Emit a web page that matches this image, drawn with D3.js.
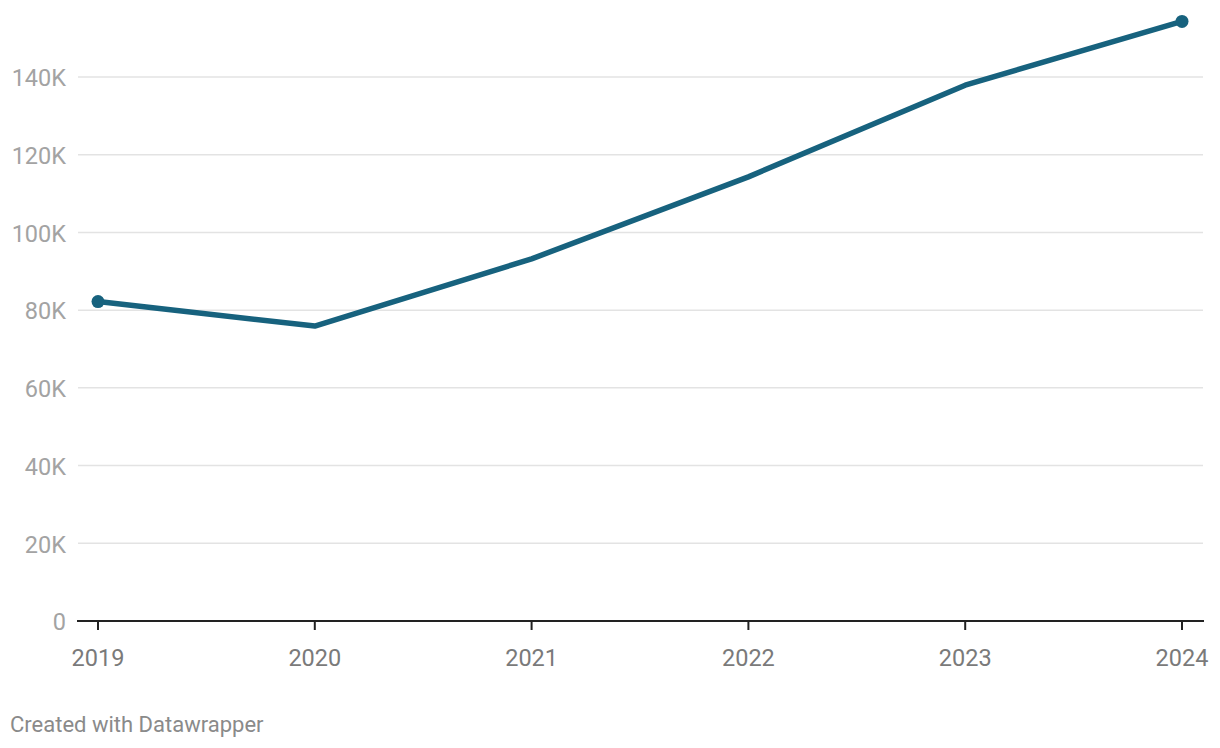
<!DOCTYPE html>
<html><head><meta charset="utf-8">
<script src="https://cdn.jsdelivr.net/npm/d3@7"></script>
<style>
body{margin:0;background:#fff;font-family:Roboto,"Noto Sans",sans-serif;}
</style></head>
<body><svg id="c" width="1220" height="748"></svg>
<script>
const years = [2019, 2020, 2021, 2022, 2023, 2024];
const values = [82200, 75900, 93200, 114300, 137900, 154300];
const yTicks = [0, 20000, 40000, 60000, 80000, 100000, 120000, 140000];
const yTickLabels = ["0", "20K", "40K", "60K", "80K", "100K", "120K", "140K"];
const footer = "Created with Datawrapper";

const svg = d3.select("#c");
const x = d3.scaleLinear().domain([2019, 2024]).range([98, 1182]);
const y = d3.scaleLinear().domain([0, 140000]).range([621, 77]);

// gridlines
svg.append("g").selectAll("line").data(yTicks.slice(1)).join("line")
  .attr("x1", 78).attr("x2", 1203)
  .attr("y1", d => y(d)).attr("y2", d => y(d))
  .attr("stroke", "#e3e3e3").attr("stroke-width", 1.5);

// y labels
svg.append("g").selectAll("text").data(yTicks).join("text")
  .attr("x", 66).attr("y", d => y(d) + 1).attr("dy", "0.35em")
  .attr("text-anchor", "end").attr("fill", "#a3a3a3")
  .attr("font-size", 23.5).text((d, i) => yTickLabels[i]);

// baseline
svg.append("line").attr("x1", 77).attr("x2", 1204)
  .attr("y1", y(0)).attr("y2", y(0)).attr("stroke", "#222").attr("stroke-width", 2);

// x ticks
svg.append("g").selectAll("line").data(years).join("line")
  .attr("x1", d => x(d)).attr("x2", d => x(d))
  .attr("y1", y(0)).attr("y2", y(0) + 9)
  .attr("stroke", "#222").attr("stroke-width", 2);

svg.append("g").selectAll("text").data(years).join("text")
  .attr("x", d => x(d)).attr("y", 658).attr("dy", "0.35em")
  .attr("text-anchor", "middle").attr("fill", "#7a7a7a")
  .attr("font-size", 23.5).text(d => d);

// line
const line = d3.line().x((d, i) => x(years[i])).y(d => y(d));
svg.append("path").datum(values).attr("d", line)
  .attr("fill", "none").attr("stroke", "#17627e").attr("stroke-width", 5.5)
  .attr("stroke-linejoin", "round");

svg.append("g").selectAll("circle").data([0, values.length - 1]).join("circle")
  .attr("cx", i => x(years[i])).attr("cy", i => y(values[i])).attr("r", 6.5)
  .attr("fill", "#17627e");

svg.append("text").attr("x", 10).attr("y", 724).attr("dy", "0.35em")
  .attr("fill", "#8a8a8a").attr("font-size", 22).text(footer);
</script></body></html>
